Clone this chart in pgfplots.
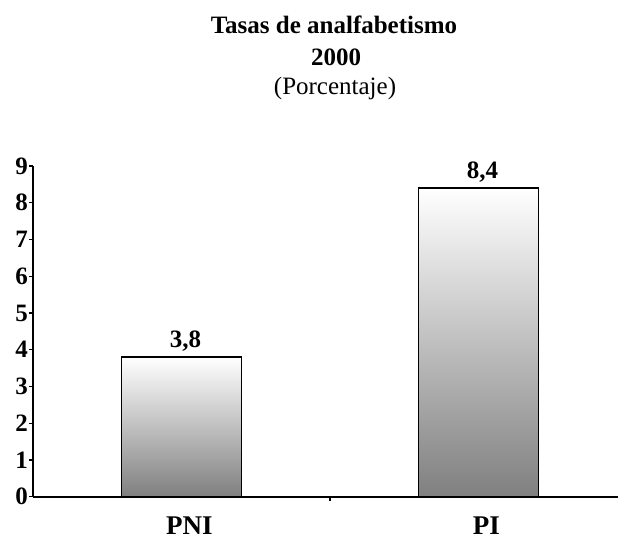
\documentclass[border=0pt]{standalone}
\usepackage{fontspec}
\setmainfont{Liberation Serif}
\usepackage{pgfplots}
\pgfplotsset{compat=1.18}
\begin{document}
\begin{tikzpicture}
\useasboundingbox (0,0) rectangle (618pt,542pt);
\node[anchor=base, font=\bfseries\fontsize{25}{30}\selectfont, inner sep=0pt] at (334pt,508pt) {Tasas de analfabetismo};
\node[anchor=base, font=\bfseries\fontsize{25}{30}\selectfont, inner sep=0pt] at (336pt,476pt) {2000};
\node[anchor=base, font=\fontsize{25}{30}\selectfont, inner sep=0pt] at (335pt,447pt) {(Porcentaje)};
\begin{axis}[
  at={(33pt,45.3pt)}, anchor=south west,
  scale only axis, width=585pt, height=330.7pt,
  xmin=-0.5, xmax=1.47, ymin=0, ymax=9,
  axis x line*=bottom, axis y line*=left,
  axis line style={line width=1.8pt, black},
  ytick={0,1,2,3,4,5,6,7,8,9},
  tick align=outside, major tick length=4pt,
  tick style={line width=1.2pt, black},
  xtick={0.5}, xticklabels={},
  extra x ticks={0,1}, extra x tick labels={PNI,PI},
  extra x tick style={major tick length=0pt},
  /pgf/number format/assume math mode=true,
  yticklabel style={font=\bfseries\fontsize{25}{25}\selectfont, anchor=east, inner sep=0pt, xshift=-1pt},
  xticklabel style={font=\bfseries\fontsize{27}{27}\selectfont, anchor=base, inner sep=0pt, yshift=-38pt, xshift=8pt},
  clip=false,
]
\addplot[ybar, bar width=120pt, bar shift=0pt, draw=black, line width=1.8pt,
  top color=white, bottom color=black!50,
  nodes near coords,
  every node near coord/.append style={font=\bfseries\fontsize{25}{25}\selectfont, anchor=base, inner sep=0pt, yshift=10pt, xshift=4pt, /pgf/number format/use comma, /pgf/number format/fixed, /pgf/number format/precision=1, /pgf/number format/fixed zerofill},
] coordinates {(0,3.8)};
\addplot[ybar, bar width=120pt, bar shift=0pt, draw=black, line width=1.8pt,
  top color=white, bottom color=black!50,
  nodes near coords,
  every node near coord/.append style={font=\bfseries\fontsize{25}{25}\selectfont, anchor=base, inner sep=0pt, yshift=10pt, xshift=4pt, /pgf/number format/use comma, /pgf/number format/fixed, /pgf/number format/precision=1, /pgf/number format/fixed zerofill},
] coordinates {(1,8.4)};
\end{axis}
\end{tikzpicture}
\end{document}
